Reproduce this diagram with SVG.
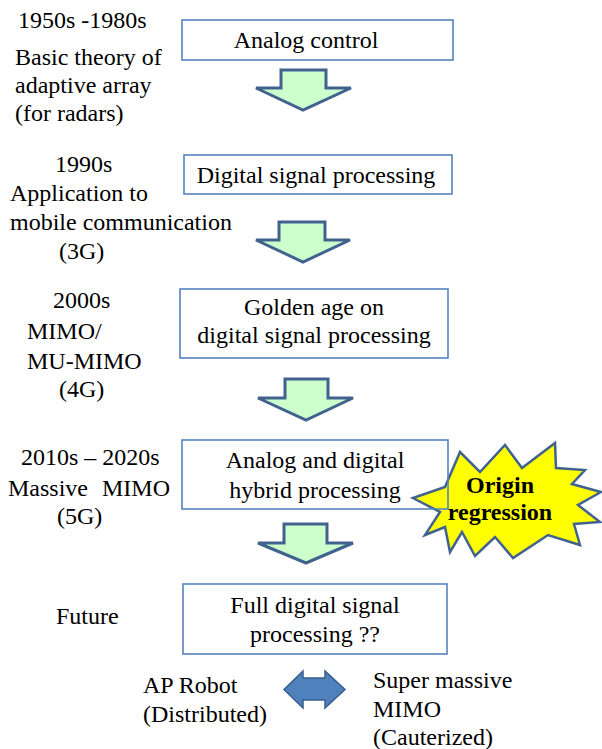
<svg xmlns="http://www.w3.org/2000/svg" width="602" height="749" viewBox="0 0 602 749">
<style>
text{font-size:24px;fill:#000}
.c{text-anchor:middle}
.box{fill:#fff;stroke:#5582BE;stroke-width:1.6}
.down{fill:#CCFFCC;stroke:#41628F;stroke-width:3;stroke-linejoin:miter}
.b{font-weight:bold}
</style>
<rect width="602" height="749" fill="#fff"/>
<g font-family="'Liberation Serif', 'Times New Roman', 'DejaVu Serif', serif">
<g id="labels">
<text x="18" y="28">1950s -1980s</text>
<text x="15" y="65">Basic theory of</text>
<text x="15" y="93">adaptive array</text>
<text x="15" y="121">(for radars)</text>
<text x="55" y="172">1990s</text>
<text x="10" y="201">Application to</text>
<text x="10" y="230">mobile communication</text>
<text x="59" y="259">(3G)</text>
<text x="53" y="308">2000s</text>
<text x="27" y="339">MIMO/</text>
<text x="27" y="369">MU-MIMO</text>
<text x="59" y="397">(4G)</text>
<text x="21" y="465">2010s – 2020s</text>
<text y="496"><tspan x="8">Massive</tspan><tspan x="102">MIMO</tspan></text>
<text x="57" y="524">(5G)</text>
<text x="56" y="624">Future</text>
</g>
<g id="starburst">
<polygon points="413,498 445,487 460,452 480,472 505,445 522,468 555,443 556,468 585,470 572,484 601,492 578,505 600,522 574,524 580,545 548,535 513,558 495,537 475,556 462,532 450,552 445,527 425,535 440,512" fill="#FFFF00" stroke="#41628F" stroke-width="2.5" stroke-linejoin="miter"/>
<text class="c b" x="500" y="493">Origin</text>
<text class="c b" x="500" y="520">regression</text>
</g>
<g id="n1"><rect class="box" x="182" y="20" width="271" height="40"/><text class="c" x="306" y="48">Analog control</text></g>
<g id="n2"><rect class="box" x="184" y="155" width="268" height="39"/><text class="c" x="316" y="183">Digital signal processing</text></g>
<g id="n3"><rect class="box" x="180" y="289" width="268" height="69"/><text class="c" x="314" y="315">Golden age on</text><text class="c" x="314" y="343">digital signal processing</text></g>
<g id="n4"><rect class="box" x="182" y="440" width="266" height="69" style="fill:none"/><text class="c" x="315" y="468">Analog and digital</text><text class="c" x="315" y="498">hybrid processing</text></g>
<g id="n5"><rect class="box" x="183" y="584" width="264" height="70"/><text class="c" x="315" y="613">Full digital signal</text><text class="c" x="315" y="642">processing ??</text></g>
<g id="connectors">
<polygon class="down" points="281,70 326,70 326,88 351,88 303,110 256,88 281,88"/>
<polygon class="down" points="279,222 325,222 325,240 350,240 303,262 256,240 279,240"/>
<polygon class="down" points="285,379 328,379 328,398 353,398 306,420 258,398 285,398"/>
<polygon class="down" points="284,524 327,524 327,543 353,543 306,563 258,543 284,543"/>
<polygon points="284,689.5 303,671 303,678 325,678 325,671 345,689.5 325,708 325,700 303,700 303,708" fill="#4F81BD" stroke="#385D8A" stroke-width="1.5"/>
</g>
<g id="bottom">
<text x="143" y="693">AP Robot</text>
<text x="143" y="722">(Distributed)</text>
<text x="373" y="688">Super massive</text>
<text x="373" y="717">MIMO</text>
<text x="373" y="745">(Cauterized)</text>
</g>
</g>
</svg>
